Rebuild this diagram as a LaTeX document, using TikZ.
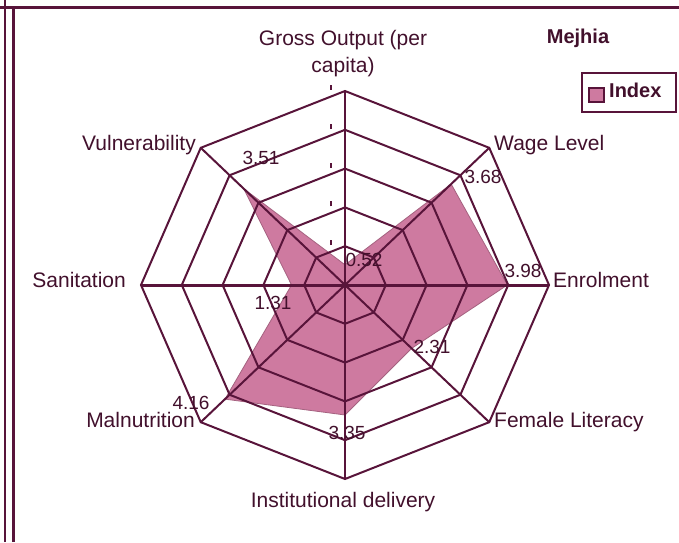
\documentclass[tikz,border=0pt]{standalone}
\usepackage{fontspec}
\setmainfont{Liberation Sans}
\definecolor{gridcol}{RGB}{88,20,58}
\definecolor{labelcol}{RGB}{66,16,44}
\definecolor{areacol}{RGB}{206,122,160}
\tikzset{
  grid line/.style={gridcol, line width=2pt, line join=miter},
  axis label/.style={labelcol, font=\fontsize{21}{27}\selectfont, inner sep=0pt},
  value label/.style={labelcol, font=\fontsize{19}{24}\selectfont, inner sep=0pt}
}
\begin{document}
\begin{tikzpicture}[x=1pt,y=1pt]
\useasboundingbox (0,0) rectangle (679,542);
\fill[white] (0,0) rectangle (679,542);

% Frame
\draw[gridcol, line width=3pt] (0,534) -- (679,534);
\draw[gridcol, line width=2.5pt] (5,0) -- (5,542);
\draw[gridcol, line width=3pt] (13,0) -- (13,534);

% Radar, centre at (345,257)
\begin{scope}[shift={(345pt,257pt)}, x=204pt, y=194pt]
  % Index area
  \fill[areacol, draw=areacol!80!black, line width=0.8pt]
    (90:0.104) -- (45:0.736) -- (0:0.796) -- (-45:0.462) -- (-90:0.670)
    -- (-135:0.832) -- (180:0.262) -- (135:0.702) -- cycle;
  % Rings
  \foreach \r in {1,...,5}
    \draw[grid line] (0:\r/5) \foreach \a in {45,90,...,315} { -- (\a:\r/5) } -- cycle;
  % Spokes
  \foreach \a in {45,90,...,315}
    \draw[grid line] (0,0) -- (\a:1);
  \draw[grid line, line width=3pt] (180:1) -- (0:1);
  \fill[gridcol] (0,0) circle (3pt);
\end{scope}

% Tick marks on the top spoke
\foreach \r in {1,...,5}
  \draw[gridcol, line width=1.5pt] (331,{258+38.8*\r}) -- ++(0,5);

% Axis labels
\node[axis label, align=center] (gross) at (343,488) {Gross Output (per\\capita)};
\node[axis label, anchor=mid west] (wage) at (494,394) {Wage Level};
\node[axis label, anchor=mid west] (enrol) at (553,257) {Enrolment};
\node[axis label, anchor=mid west] (female) at (494,117) {Female Literacy};
\node[axis label] (inst) at (343,40) {Institutional delivery};
\node[axis label, anchor=mid east] (maln) at (195,117) {Malnutrition};
\node[axis label, anchor=mid east] (sanit) at (126,257) {Sanitation};
\node[axis label, anchor=mid east] (vuln) at (196,394) {Vulnerability};

% Values
\node[value label] (vgross) at (364,282) {0.52};
\node[value label] (vwage) at (483,365) {3.68};
\node[value label] (venrol) at (523,271) {3.98};
\node[value label] (vfemale) at (432,195) {2.31};
\node[value label] (vinst) at (347,109) {3.35};
\node[value label] (vmaln) at (191,139) {4.16};
\node[value label] (vsanit) at (273,239) {1.31};
\node[value label] (vvuln) at (261,384) {3.51};

% Title and legend
\node[axis label, font=\fontsize{20}{24}\selectfont\bfseries] (title) at (578,504) {Mejhia};
\draw[gridcol, line width=2.5pt] (582,430) rectangle (676,469);
\draw[gridcol, fill=areacol, line width=1.5pt] (589,440) rectangle (604,454);
\node[axis label, font=\fontsize{20}{24}\selectfont\bfseries, anchor=mid west] (index) at (609,447) {Index};
\end{tikzpicture}
\end{document}
